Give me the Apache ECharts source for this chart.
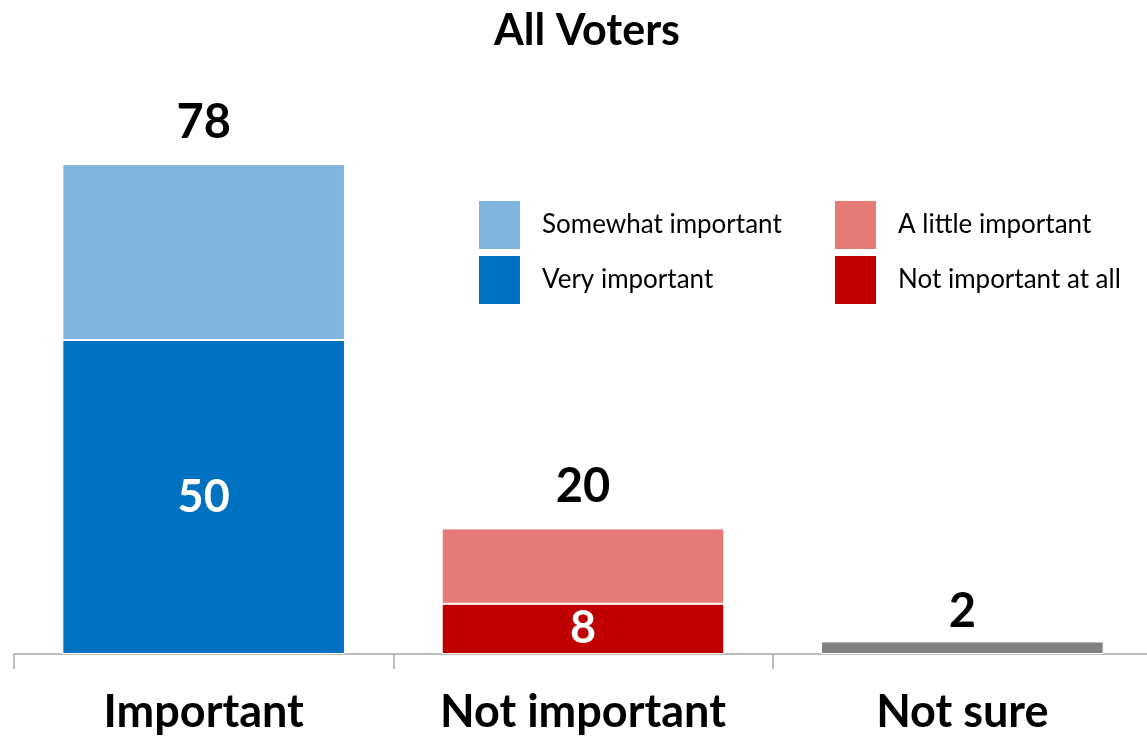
<!DOCTYPE html>
<html>
<head>
<meta charset="utf-8">
<script src="https://cdn.jsdelivr.net/npm/echarts@6/dist/echarts.min.js"></script>
<style>
html,body{margin:0;padding:0;background:#fff;}
#chart{width:1147px;height:739px;}
</style>
</head>
<body>
<div id="chart"></div>
<script>
var categories = ['Important', 'Not important', 'Not sure'];
var veryImportant = [50, '-', '-'];
var somewhatImportant = [28, '-', '-'];
var notImportantAtAll = ['-', 8, '-'];
var aLittleImportant = ['-', 12, '-'];
var notSure = ['-', '-', 2];
var totals = [78, 20, 2];

var FONT = 'Lato';
var chart = echarts.init(document.getElementById('chart'));

function totalLabel(dist) {
  return {
    show: true, position: 'top', distance: dist,
    color: '#000', fontFamily: FONT, fontWeight: 'bold', fontSize: 47,
    formatter: function (p) { return totals[p.dataIndex]; }
  };
}
function innerLabel() {
  return {
    show: true, position: 'inside',
    color: '#fff', fontFamily: FONT, fontWeight: 'bold', fontSize: 45,
    formatter: function (p) { return p.value; }
  };
}
var seg = { borderColor: '#fff', borderWidth: 1 };
var legendText = { fontFamily: FONT, fontSize: 26, color: '#000', padding: [5, 0, 0, 16] };

chart.setOption({
  animation: false,
  backgroundColor: '#fff',
  title: {
    text: 'All Voters', left: 582, top: 5, textAlign: 'center',
    textStyle: { fontFamily: FONT, fontWeight: 'bold', fontSize: 43, color: '#000' }
  },
  legend: [{
    data: ['Somewhat important', 'Very important'],
    orient: 'vertical', left: 477, top: 199, padding: 0,
    itemWidth: 43, itemHeight: 50, itemGap: 3, icon: 'rect',
    textStyle: legendText, selectedMode: false
  }, {
    data: ['A little important', 'Not important at all'],
    orient: 'vertical', left: 833, top: 199, padding: 0,
    itemWidth: 43, itemHeight: 50, itemGap: 3, icon: 'rect',
    textStyle: legendText, selectedMode: false
  }],
  grid: { left: 14, top: 26, width: 1138, bottom: 85, containLabel: false, outerBoundsMode: 'none' },
  xAxis: {
    type: 'category', data: categories,
    axisLine: { show: true, lineStyle: { color: '#A6A6A6', width: 1.5 } },
    axisTick: { show: true, length: 15, lineStyle: { color: '#A6A6A6', width: 1.5 } },
    axisLabel: { fontFamily: FONT, fontWeight: 'bold', fontSize: 45, color: '#000', margin: 36 }
  },
  yAxis: { type: 'value', min: 0, max: 100, show: false, splitLine: { show: false } },
  series: [
    { name: 'Very important', type: 'bar', stack: 't', barWidth: '74.5%', data: veryImportant,
      itemStyle: Object.assign({ color: '#0070C0' }, seg), label: innerLabel() },
    { name: 'Somewhat important', type: 'bar', stack: 't', data: somewhatImportant,
      itemStyle: Object.assign({ color: '#7FB5DE' }, seg), label: totalLabel(18) },
    { name: 'Not important at all', type: 'bar', stack: 't', data: notImportantAtAll,
      itemStyle: Object.assign({ color: '#C00000' }, seg), label: innerLabel() },
    { name: 'A little important', type: 'bar', stack: 't', data: aLittleImportant,
      itemStyle: Object.assign({ color: '#E57A77' }, seg), label: totalLabel(18) },
    { name: 'Not sure', type: 'bar', stack: 't', data: notSure,
      itemStyle: Object.assign({ color: '#808080' }, seg), label: totalLabel(6) }
  ]
});
</script>
</body>
</html>
